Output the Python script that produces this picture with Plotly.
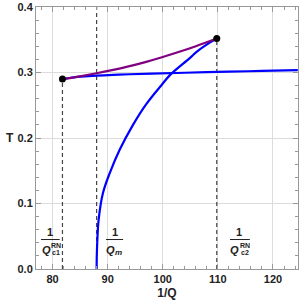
import plotly.graph_objects as go

# --- data ---
flat_x = [81.8, 83.0, 85.0, 88.0, 91.0, 94.0, 98.0, 104.0, 112.0, 118.0, 124.5]
flat_T = [0.2900, 0.2916, 0.2936, 0.2951, 0.2963, 0.2973, 0.2982, 0.2996, 0.3012, 0.3024, 0.3036]

steep_x = [88.0, 88.03, 88.13, 88.36, 89.15, 90.36, 92.18, 94.6, 97.04, 99.8, 101.3, 104.9, 106.2, 108.6, 109.8]
steep_T = [0.0, 0.02, 0.044, 0.075, 0.116, 0.146, 0.182, 0.220, 0.252, 0.281, 0.296, 0.322, 0.332, 0.346, 0.352]

purple_x = [81.8, 85.0, 88.0, 91.0, 94.0, 97.0, 100.0, 103.0, 106.0, 109.8]
purple_T = [0.290, 0.2942, 0.2988, 0.3040, 0.3097, 0.3163, 0.3237, 0.3316, 0.3402, 0.352]

dots_x = [81.8, 109.8]
dots_T = [0.290, 0.352]

x_c1, x_m, x_c2 = 81.8, 88.0, 109.8
T_c1_top, T_m_top, T_c2_top = 0.290, 0.4, 0.352

x_ticks = [80, 90, 100, 110, 120]
y_ticks = [0.0, 0.1, 0.2, 0.3, 0.4]
y_tick_labels = ["0.0", "0.1", "0.2", "0.3", "0.4"]

fig = go.Figure()

dash_style = dict(color="#444444", width=1.2, dash="4px,3px")
for xv, top in [(x_c1, T_c1_top), (x_m, T_m_top), (x_c2, T_c2_top)]:
    fig.add_trace(go.Scatter(x=[xv, xv], y=[0, top], mode="lines", line=dash_style,
                             showlegend=False, hoverinfo="skip"))

fig.add_trace(go.Scatter(x=flat_x, y=flat_T, mode="lines",
                         line=dict(color="#0000ff", width=2.2, shape="spline"), showlegend=False))
fig.add_trace(go.Scatter(x=steep_x, y=steep_T, mode="lines",
                         line=dict(color="#0000ff", width=2.2, shape="spline"), showlegend=False))
fig.add_trace(go.Scatter(x=purple_x, y=purple_T, mode="lines",
                         line=dict(color="#800080", width=2.2, shape="spline"), showlegend=False))
fig.add_trace(go.Scatter(x=dots_x, y=dots_T, mode="markers",
                         marker=dict(color="black", size=7), showlegend=False))

FONT = "Liberation Sans, Arial, sans-serif"
tickfont = dict(family=FONT, size=11, color="#222", weight="bold")

axis_common = dict(
    showline=True, linecolor="#999999", linewidth=1, mirror="ticks",
    ticks="inside", ticklen=5, tickcolor="#999999",
    showgrid=True, gridcolor="#dcdcdc", gridwidth=1,
    zeroline=False, tickfont=tickfont,
)

fig.update_xaxes(range=[77.0, 124.54], tickvals=x_ticks,
                 minor=dict(dtick=2, ticks="inside", ticklen=3, tickcolor="#999999", showgrid=False),
                 title=dict(text="1/Q", font=dict(family=FONT, size=12, color="#222", weight="bold"), standoff=4),
                 **axis_common)
fig.update_yaxes(range=[0, 0.4], tickvals=y_ticks, ticktext=y_tick_labels,
                 minor=dict(dtick=0.02, ticks="inside", ticklen=3, tickcolor="#999999", showgrid=False),
                 **axis_common)

ann = []
def txt(x, y, s, size=11, italic=False):
    t = f"<i>{s}</i>" if italic else s
    ann.append(dict(x=x, y=y, xref="x", yref="y", text=t, showarrow=False,
                    font=dict(family=FONT, size=size, color="#222", weight="bold"),
                    xanchor="center", yanchor="middle"))

shapes = []
def bar(x0, x1, y):
    shapes.append(dict(type="line", xref="x", yref="y", x0=x0, x1=x1, y0=y, y1=y,
                       line=dict(color="#222", width=1)))

# 1/Q_c1^RN
txt(79.55, 0.057, "1")
bar(77.9, 81.3, 0.045)
txt(78.85, 0.029, "Q", italic=True)
txt(80.6, 0.0355, "RN", size=7)
txt(80.6, 0.0245, "c1", size=7)
# 1/Q_m
txt(91.3, 0.057, "1")
bar(89.7, 92.8, 0.045)
txt(90.45, 0.029, "Q", italic=True)
txt(92.0, 0.025, "m", size=8, italic=True)
# 1/Q_c2^RN
txt(113.75, 0.057, "1")
bar(112.2, 115.8, 0.045)
txt(113.1, 0.029, "Q", italic=True)
txt(114.95, 0.0355, "RN", size=7)
txt(114.95, 0.0245, "c2", size=7)

ann.append(dict(x=-0.098, y=0.5, xref="paper", yref="paper", text="T", showarrow=False,
                font=dict(family=FONT, size=12, color="#222", weight="bold"),
                xanchor="center", yanchor="middle"))

fig.update_layout(width=300, height=305, margin=dict(l=36, r=2, t=7, b=36, autoexpand=False),
                  paper_bgcolor="white", plot_bgcolor="white",
                  annotations=ann, shapes=shapes)

fig.write_html("out.html", config={"displayModeBar": False},
               post_script="document.body.style.margin='0';document.body.style.padding='0';")
